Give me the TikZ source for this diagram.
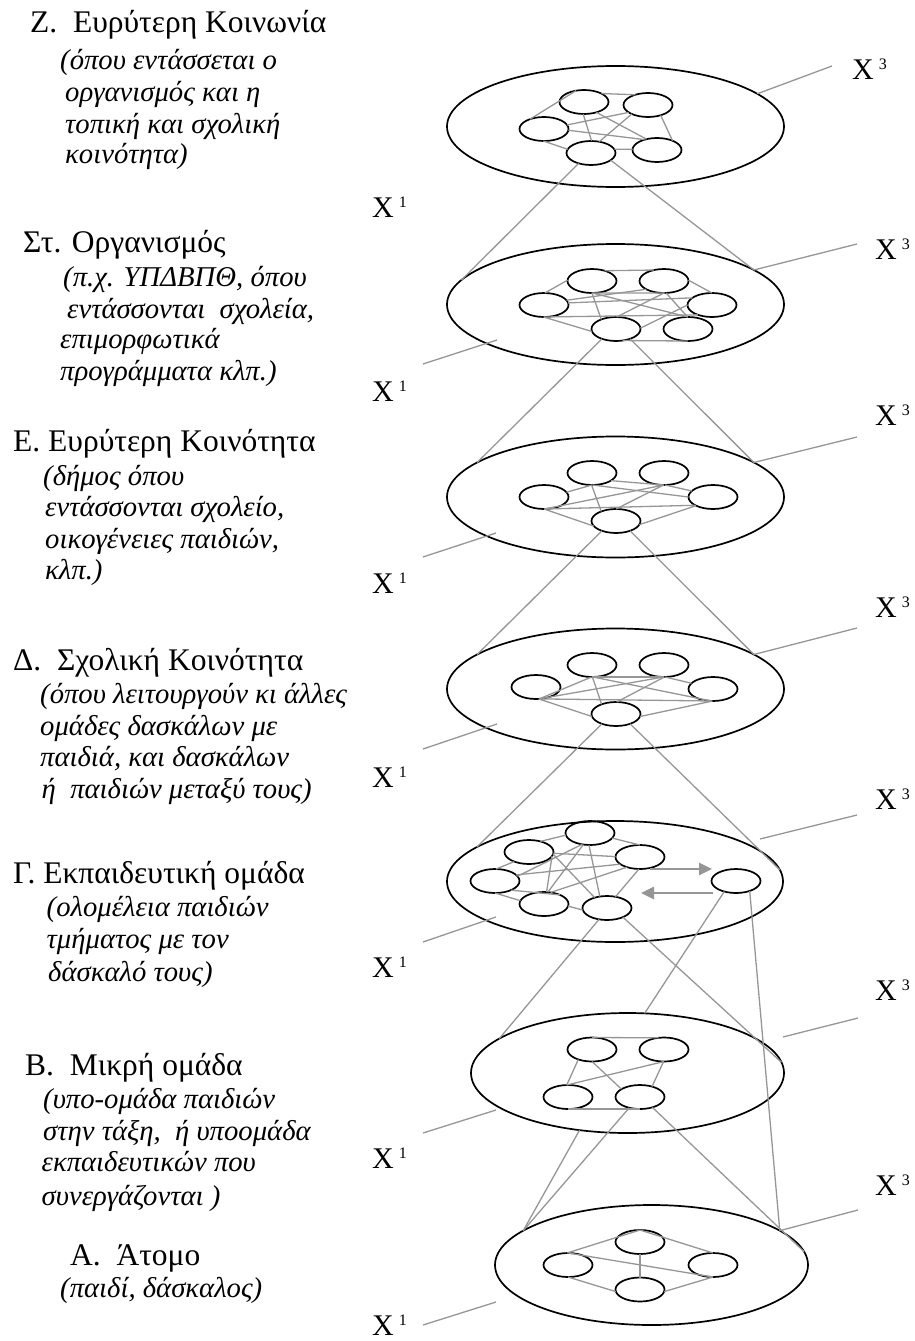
\documentclass[tikz,border=0pt]{standalone}
\usepackage{fontspec}
\setmainfont{Liberation Serif}
\usetikzlibrary{shapes.geometric,arrows.meta}
\definecolor{lgrey}{RGB}{150,150,150}
\begin{document}
\begin{tikzpicture}[x=1pt,y=-1pt,
  bigell/.style={ellipse, draw=black, line width=1.7pt, minimum width=337pt, minimum height=121pt, inner sep=0pt, outer sep=0pt},
  smell/.style={ellipse, draw=black, line width=1.7pt, minimum width=49pt, minimum height=24pt, inner sep=0pt, outer sep=0pt},
  gl/.style={draw=lgrey, line width=1.3pt},
  arr/.style={draw=lgrey, line width=2.6pt, -{Triangle[length=13pt,width=12pt]}},
  ttl/.style={anchor=base west, inner sep=0pt, font=\fontsize{31.5}{31.5}\selectfont},
  subtxt/.style={anchor=base west, inner sep=0pt, font=\itshape\fontsize{28.7}{28.7}\selectfont},
  xl/.style={anchor=base west, inner sep=0pt, font=\fontsize{30}{30}\selectfont}]
\useasboundingbox (0,0) rectangle (915,1341);
\newcommand{\xsup}[1]{X\hspace{5pt}\raisebox{10pt}{\fontsize{16}{16}\selectfont #1}}

% ---------------- Left texts ----------------
\node[ttl] (tZ0) at (30,32) {Ζ.\ \ Ευρύτερη Κοινωνία};
\node[subtxt] (tZ1) at (60,69) {(όπου εντάσσεται ο};
\node[subtxt] (tZ2) at (65,101.5) {οργανισμός και η};
\node[subtxt] (tZ3) at (65,133) {τοπική και σχολική};
\node[subtxt] (tZ4) at (65,163) {κοινότητα)};

\node[ttl] (tS0) at (23,252) {Στ. Οργανισμός};
\node[subtxt] (tS1) at (63,286.5) {(π.χ. ΥΠΔΒΠΘ, όπου};
\node[subtxt] (tS2) at (67,318) {εντάσσονται\ \ σχολεία,};
\node[subtxt] (tS3) at (60,348) {επιμορφωτικά};
\node[subtxt] (tS4) at (60,380) {προγράμματα κλπ.)};

\node[ttl] (tE0) at (13,451.5) {Ε. Ευρύτερη Κοινότητα};
\node[subtxt] (tE1) at (43,485) {(δήμος όπου};
\node[subtxt] (tE2) at (45,516.5) {εντάσσονται σχολείο,};
\node[subtxt] (tE3) at (45,548) {οικογένειες παιδιών,};
\node[subtxt] (tE4) at (45,579) {κλπ.)};

\node[ttl] (tD0) at (13,670) {Δ.\ \ Σχολική Κοινότητα};
\node[subtxt] (tD1) at (40,703) {(όπου λειτουργούν κι άλλες};
\node[subtxt] (tD2) at (40,735) {ομάδες δασκάλων με};
\node[subtxt] (tD3) at (40,766.5) {παιδιά, και δασκάλων};
\node[subtxt] (tD4) at (41.5,798) {ή\ \ παιδιών μεταξύ τους)};

\node[ttl] (tG0) at (13,883) {Γ. Εκπαιδευτική ομάδα};
\node[subtxt] (tG1) at (46.5,916.5) {(ολομέλεια παιδιών};
\node[subtxt] (tG2) at (46.5,948) {τμήματος με τον};
\node[subtxt] (tG3) at (48,981.5) {δάσκαλό τους)};

\node[ttl] (tB0) at (25,1075) {Β.\ \ Μικρή ομάδα};
\node[subtxt] (tB1) at (43,1108) {(υπο-ομάδα παιδιών};
\node[subtxt] (tB2) at (43,1140) {στην τάξη,\ \ ή υποομάδα};
\node[subtxt] (tB3) at (41.5,1171.5) {εκπαιδευτικών που};
\node[subtxt] (tB4) at (41.5,1205) {συνεργάζονται )};

\node[ttl] (tA0) at (70,1265) {Α.\ \ Άτομο};
\node[subtxt] (tA1) at (60,1297) {(παιδί, δάσκαλος)};

% ---------------- X labels ----------------
\node[xl] (x1Z) at (372,217) {\xsup{1}};
\node[xl] (x1S) at (372,401) {\xsup{1}};
\node[xl] (x1E) at (372,593) {\xsup{1}};
\node[xl] (x1D) at (372,787) {\xsup{1}};
\node[xl] (x1G) at (372,977) {\xsup{1}};
\node[xl] (x1B) at (372,1168) {\xsup{1}};
\node[xl] (x1A) at (372,1335) {\xsup{1}};

\node[xl] (x3Z) at (852,79) {\xsup{3}};
\node[xl] (x3S) at (875,259) {\xsup{3}};
\node[xl] (x3E) at (875,425) {\xsup{3}};
\node[xl] (x3D) at (875,617) {\xsup{3}};
\node[xl] (x3G) at (875,809) {\xsup{3}};
\node[xl] (x3B) at (875,1000) {\xsup{3}};
\node[xl] (x3A) at (875,1195) {\xsup{3}};

% ---------------- Level Z ----------------
\node[bigell] (ZB) at (615.5,126.5) {};
\node[smell] (Z1) at (584,102) {};
\node[smell] (Z2) at (648,105) {};
\node[smell] (Z3) at (544,129) {};
\node[smell] (Z4) at (591,153) {};
\node[smell] (Z5) at (657,150) {};
\draw[gl] (Z3.145) -- (Z1.125);
\draw[gl] (Z1.26) -- (Z2.141);
\draw[gl] (Z3.10) -- (Z2.201);
\draw[gl] (Z1.266) -- (Z4.87);
\draw[gl] (Z1.320) -- (Z5.134);
\draw[gl] (Z2.209) -- (Z4.54);
\draw[gl] (Z3.357) -- (Z5.140);
\draw[gl] (Z2.321) -- (Z5.31);
\draw[gl] (Z3.267) -- (Z4.171);
\draw[gl] (Z4.9) -- (Z5.178);
\coordinate (ZX3) at (832,66);
\draw[gl] (ZB.13) -- (ZX3);

% ---------------- Level St ----------------
\node[bigell] (SB) at (615.5,304.5) {};
\node[smell] (S1) at (592,281) {};
\node[smell] (S2) at (664,281) {};
\node[smell] (S3) at (544,305) {};
\node[smell] (S4) at (712,305) {};
\node[smell] (S5) at (616,329) {};
\node[smell] (S6) at (688,329) {};
\draw[gl] (S1.39) -- (S2.132);
\draw[gl] (S3.86) -- (S1.178);
\draw[gl] (S2.2) -- (S4.90);
\draw[gl] (S1.268) -- (S2.275);
\draw[gl] (S1.270) -- (S5.147);
\draw[gl] (S1.272) -- (S6.90);
\draw[gl] (S3.12) -- (S2.205);
\draw[gl] (S3.5) -- (S4.160);
\draw[gl] (S3.270) -- (S4.215);
\draw[gl] (S3.268) -- (S5.186);
\draw[gl] (S2.280) -- (S6.92);
\draw[gl] (S2.270) -- (S5.87);
\draw[gl] (S4.180) -- (S5.2);
\draw[gl] (S5.300) -- (S6.270);
\draw[gl] (Z4.220) -- (SB.171);
\draw[gl] (Z4.340) -- (SB.14);
\coordinate (SX1a) at (423,364);
\coordinate (SX1b) at (497,340);
\draw[gl] (SX1a) -- (SX1b);
\coordinate (SX3) at (857,244);
\draw[gl] (SB.14) -- (SX3);

% ---------------- Level E ----------------
\node[bigell] (EB) at (615.5,497) {};
\node[smell] (E1) at (592,473) {};
\node[smell] (E2) at (664,473) {};
\node[smell] (E3) at (544,497) {};
\node[smell] (E4) at (713,497) {};
\node[smell] (E5) at (616,521) {};
\draw[gl] (E1.270) -- (E3.12);
\draw[gl] (E1.268) -- (E5.147);
\draw[gl] (E1.272) -- (E4.180);
\draw[gl] (E1.338) -- (E2.265);
\draw[gl] (E3.275) -- (E4.205);
\draw[gl] (E3.272) -- (E2.270);
\draw[gl] (E5.90) -- (E2.268);
\draw[gl] (E2.275) -- (E4.164);
\draw[gl] (E3.270) -- (E5.193);
\draw[gl] (E5.351) -- (E4.207);
\draw[gl] (S5.215) -- (EB.166);
\draw[gl] (S5.325) -- (EB.14);
\coordinate (EX1a) at (423,557);
\coordinate (EX1b) at (496,533);
\draw[gl] (EX1a) -- (EX1b);
\coordinate (EX3) at (857,437);
\draw[gl] (EB.14) -- (EX3);

% ---------------- Level D ----------------
\node[bigell] (DB) at (615.5,689) {};
\node[smell] (D1) at (592,665) {};
\node[smell] (D2) at (664,665) {};
\node[smell] (D3) at (536,687) {};
\node[smell] (D4) at (713,689) {};
\node[smell] (D5) at (616,714) {};
\draw[gl] (D1.270) -- (D2.270);
\draw[gl] (D3.285) -- (D1.268);
\draw[gl] (D3.285) -- (D2.268);
\draw[gl] (D3.285) -- (D4.265);
\draw[gl] (D3.283) -- (D5.186);
\draw[gl] (D1.272) -- (D5.146);
\draw[gl] (D1.275) -- (D4.262);
\draw[gl] (D2.272) -- (D5.87);
\draw[gl] (D2.275) -- (D4.165);
\draw[gl] (D5.354) -- (D4.268);
\draw[gl] (E5.215) -- (DB.166);
\draw[gl] (E5.325) -- (DB.14);
\coordinate (DX1a) at (423,749);
\coordinate (DX1b) at (497,724);
\draw[gl] (DX1a) -- (DX1b);
\coordinate (DX3) at (857,628);
\draw[gl] (DB.14) -- (DX3);

% ---------------- Level G ----------------
\node[bigell, minimum width=336pt] (GB) at (615,881.5) {};
\node[smell] (G1) at (590,833) {};
\node[smell] (G2) at (529,852) {};
\node[smell] (G3) at (640,857) {};
\node[smell] (G4) at (495,881) {};
\node[smell] (G5) at (544,904) {};
\node[smell] (G6) at (607,908) {};
\node[smell] (G7) at (736,881) {};
\draw[gl] (G2.43) -- (G1.185);
\draw[gl] (G1.347) -- (G3.90);
\draw[gl] (G2.357) -- (G3.179);
\draw[gl] (G2.350) -- (G5.78);
\draw[gl] (G4.85) -- (G2.213);
\draw[gl] (G4.12) -- (G1.235);
\draw[gl] (G4.16) -- (G3.200);
\draw[gl] (G2.355) -- (G6.140);
\draw[gl] (G1.240) -- (G5.72);
\draw[gl] (G1.265) -- (G6.122);
\draw[gl] (G3.218) -- (G5.60);
\draw[gl] (G4.330) -- (G5.30);
\draw[gl] (G4.270) -- (G5.172);
\draw[gl] (G5.355) -- (G6.185);
\draw[gl] (G3.265) -- (G6.53);
\coordinate (ar1a) at (650,869);
\coordinate (ar1b) at (712,869);
\coordinate (ar2a) at (713,893);
\coordinate (ar2b) at (641,893);
\draw[arr] (ar1a) -- (ar1b);
\draw[arr] (ar2a) -- (ar2b);
\draw[gl] (D5.215) -- (GB.166);
\draw[gl] (D5.325) -- (GB.4);
\coordinate (GX1a) at (423,942);
\coordinate (GX1b) at (496,917);
\draw[gl] (GX1a) -- (GX1b);
\coordinate (GX3a) at (760,839);
\coordinate (GX3b) at (857,815);
\draw[gl] (GX3a) -- (GX3b);

% ---------------- Level B ----------------
\node[bigell, minimum width=313pt, minimum height=120pt] (BB) at (627.5,1073) {};
\node[smell] (B1) at (592,1049.5) {};
\node[smell] (B2) at (664,1049.5) {};
\node[smell] (B3) at (568,1097) {};
\node[smell] (B4) at (640,1097) {};
\draw[gl] (B1.90) -- (B2.115);
\draw[gl] (B1.216) -- (B3.96);
\draw[gl] (B3.96) -- (B2.270);
\draw[gl] (B1.270) -- (B4.157);
\draw[gl] (B2.268) -- (B4.41);
\draw[gl] (B3.270) -- (B4.270);
\draw[gl] (G6.235) -- (BB.165);
\draw[gl] (G6.330) -- (BB.4);
\draw[gl] (G7.222) -- (BB.74);
\coordinate (BX1a) at (423,1133);
\coordinate (BX1b) at (496,1110);
\draw[gl] (BX1a) -- (BX1b);
\coordinate (BX3a) at (783,1037);
\coordinate (BX3b) at (858,1018);
\draw[gl] (BX3a) -- (BX3b);

% ---------------- Level A ----------------
\node[bigell, minimum width=313pt, minimum height=120pt] (AB) at (651.5,1265) {};
\node[smell] (A1) at (640,1242) {};
\node[smell] (A2) at (568,1265) {};
\node[smell] (A3) at (713,1265) {};
\node[smell] (A4) at (640,1289.5) {};
\draw[gl] (A2.95) -- (A1.90);
\draw[gl] (A1.90) -- (A3.90);
\draw[gl] (A2.88) -- (A3.270);
\draw[gl] (A1.270) -- (A4.90);
\draw[gl] (A2.270) -- (A4.185);
\draw[gl] (A3.270) -- (A4.355);
\draw[gl] (G7.324) -- (AB.15);
\draw[gl] (BB.230) -- (AB.165);
\draw[gl] (B4.225) -- (AB.165);
\draw[gl] (B4.320) -- (AB.5);
\coordinate (AX1a) at (423,1325);
\coordinate (AX1b) at (496,1302);
\draw[gl] (AX1a) -- (AX1b);
\coordinate (AX3) at (858,1210);
\draw[gl] (AB.15) -- (AX3);
\end{tikzpicture}
\end{document}
